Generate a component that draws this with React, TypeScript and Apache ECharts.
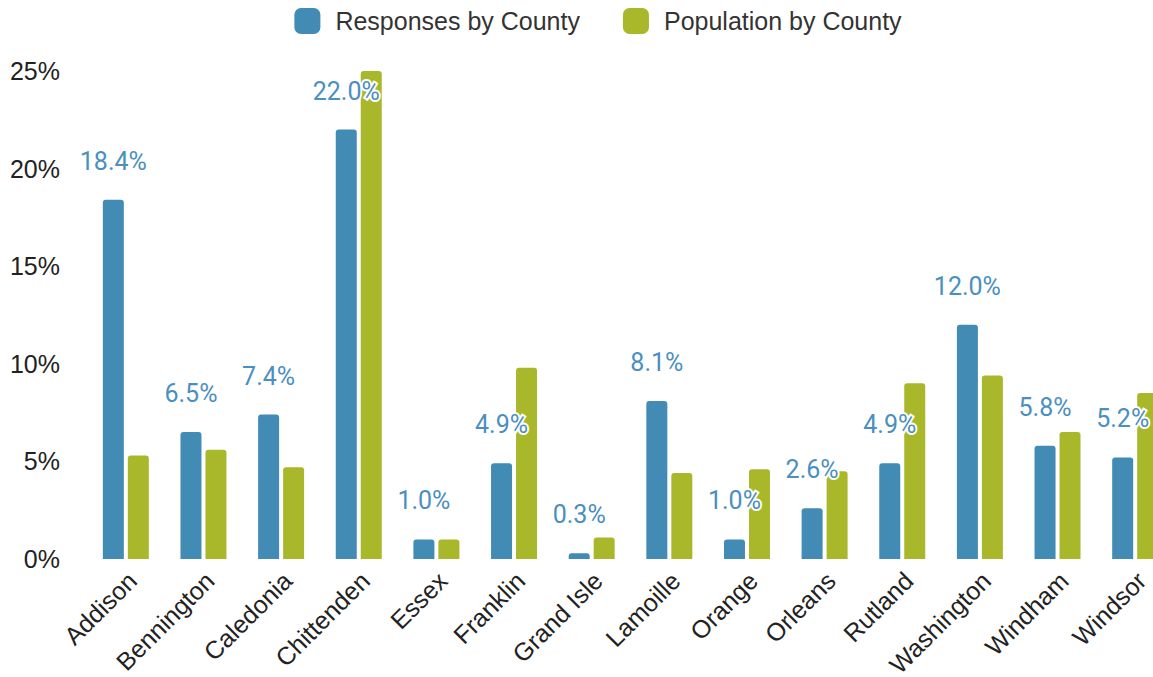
import React, { useEffect, useRef } from "react";
import * as echarts from "echarts";

const counties = [
  "Addison", "Bennington", "Caledonia", "Chittenden", "Essex", "Franklin", "Grand Isle",
  "Lamoille", "Orange", "Orleans", "Rutland", "Washington", "Windham", "Windsor",
];
const responses = [18.4, 6.5, 7.4, 22.0, 1.0, 4.9, 0.3, 8.1, 1.0, 2.6, 4.9, 12.0, 5.8, 5.2];
const population = [5.3, 5.6, 4.7, 25.0, 1.0, 9.8, 1.1, 4.4, 4.6, 4.5, 9.0, 9.4, 6.5, 8.5];
const seriesNames = ["Responses by County", "Population by County"];

export default function App() {
  const ref = useRef<HTMLDivElement>(null);
  useEffect(() => {
    if (!ref.current) return;
    const chart = echarts.init(ref.current, undefined, { renderer: "svg" });
    chart.setOption({
      animation: false,
      color: ["#428bb5", "#a8b82a"],
      legend: {
        top: 3,
        left: "center",
        itemWidth: 26,
        itemHeight: 26,
        itemGap: 43,
        textStyle: { fontFamily: "Liberation Sans", fontSize: 25, color: "#333", padding: [0, 0, 0, 10] },
        data: seriesNames.map((n) => ({ name: n, icon: "roundRect" })),
      },
      grid: { left: 87, right: 22, top: 71, bottom: 118, containLabel: false, outerBoundsMode: "none" },
      xAxis: {
        type: "category",
        data: counties,
        axisLine: { show: false },
        axisTick: { show: false },
        axisLabel: {
          rotate: 45,
          interval: 0,
          margin: 11,
          verticalAlign: "top",
          lineHeight: 18,
          fontFamily: "Liberation Sans",
          fontSize: 25,
          color: "#222",
        },
      },
      yAxis: {
        type: "value",
        min: 0,
        max: 25,
        interval: 5,
        splitLine: { show: false },
        axisLine: { show: false },
        axisTick: { show: false },
        axisLabel: {
          formatter: "{value}%",
          margin: 27,
          fontFamily: "Liberation Sans",
          fontSize: 25,
          color: "#222",
        },
      },
      series: [
        {
          name: seriesNames[0],
          type: "bar",
          data: responses,
          barWidth: 21,
          barGap: "19%",
          itemStyle: { borderRadius: [3, 3, 0, 0] },
          label: {
            show: true,
            position: "top",
            distance: 26,
            formatter: (p: any) => p.value.toFixed(1) + "%",
            fontFamily: "Roboto",
            fontSize: 25,
            color: "#4a8fbf",
            textBorderColor: "#fff",
            textBorderWidth: 4,
          },
          z: 3,
        },
        {
          name: seriesNames[1],
          type: "bar",
          data: population,
          barWidth: 21,
          itemStyle: { borderRadius: [3, 3, 0, 0] },
          z: 2,
        },
      ],
    });
    return () => chart.dispose();
  }, []);
  return (
    <div style={{ position: "fixed", left: 0, top: 0, width: 1153, height: 677, overflow: "hidden", background: "#fff" }}>
      <div ref={ref} style={{ width: 1196, height: 677 }} />
    </div>
  );
}
